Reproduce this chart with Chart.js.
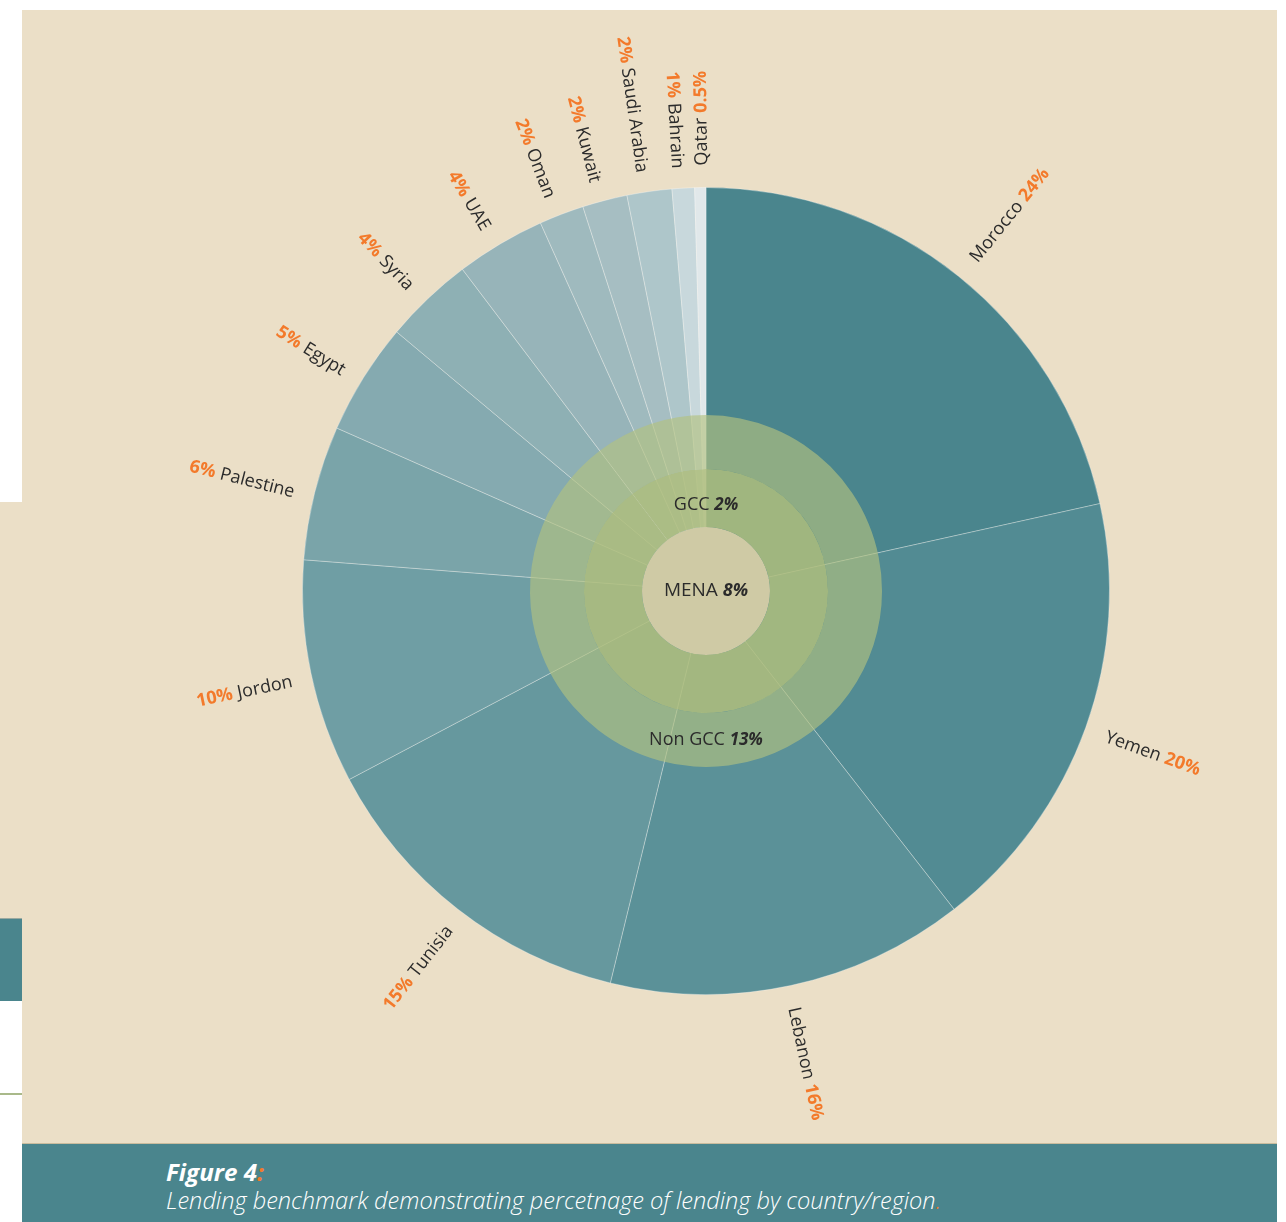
<!DOCTYPE html>
<html>
<head>
<meta charset="utf-8">
<script src="https://cdn.jsdelivr.net/npm/chart.js@4.4.1/dist/chart.umd.min.js"></script>
<style>
  html, body { margin: 0; padding: 0; background: #ffffff; }
  body { width: 1286px; height: 1222px; position: relative; overflow: hidden; font-family: "Open Sans", sans-serif; }
  .strip { position: absolute; left: 0; width: 22px; }
  #panel { position: absolute; left: 22px; top: 10px; width: 1255px; height: 1133px; background: #ebdfc7; }
  #band { position: absolute; left: 22px; top: 1143px; width: 1255px; height: 79px; background: #4a858d; border-top: 1px solid #c9bc9e; box-sizing: border-box; }
  #band .t1 { position: absolute; left: 144px; top: 12px; color: #fff; font-weight: 700; font-style: italic; font-size: 23px; white-space: nowrap; transform-origin: left top; }
  #band .t2 { position: absolute; left: 144px; top: 39px; color: #fff; font-style: italic; font-weight: 300; font-size: 24px; white-space: nowrap; transform-origin: left top; }
  #band .o { color: #f37a2b; }
  canvas { position: absolute; left: 0; top: 0; }
</style>
</head>
<body>
<div class="strip" style="top:502px;height:416px;background:#ebdfc7;"></div>
<div class="strip" style="top:918px;height:83px;background:#4a858d;border-top:1px solid #9aa9a0;box-sizing:border-box;"></div>
<div class="strip" style="top:1093px;height:2px;background:#a9b98a;"></div>
<div id="panel"></div>
<div id="band">
  <div class="t1" id="fig">Figure 4<span class="o">:</span></div>
  <div class="t2" id="cap">Lending benchmark demonstrating percetnage of lending by country/region<span class="o">.</span></div>
</div>
<canvas id="pieChart" width="1286" height="1222"></canvas>
<canvas id="ringChart" width="1286" height="1222"></canvas>
<script>
// lending share by country (%)
const countries = ["Morocco", "Yemen", "Lebanon", "Tunisia", "Jordon", "Palestine", "Egypt", "Syria", "UAE", "Oman", "Kuwait", "Saudi Arabia", "Bahrain", "Qatar"];
const shares = [24, 20, 16, 15, 10, 6, 5, 4, 4, 2, 2, 2, 1, 0.5];
const gccCountries = ["UAE", "Oman", "Kuwait", "Saudi Arabia", "Bahrain", "Qatar"];
const regions = ["MENA", "GCC", "Non GCC"];
const regionShares = [8, 2, 13];

const sliceColors = ["#4a858d", "#528b93", "#5b9198", "#66989e", "#6f9ea4", "#7aa4a9", "#85aab0",
  "#8eb0b4", "#97b4b9", "#9fbabe", "#a6bec2", "#aec6ca", "#c8d8dc", "#e1e8ea"];

const orange = "#f37a2b";
const ink = "#2b2b2b";

// labels around the outer ring
const outerLabels = {
  id: "outerLabels",
  afterDatasetsDraw(chart) {
    const ctx = chart.ctx;
    const meta = chart.getDatasetMeta(0);
    ctx.save();
    ctx.textBaseline = "middle";
    meta.data.forEach((arc, i) => {
      const a = (arc.startAngle + arc.endAngle) / 2;
      let deg = (a * 180 / Math.PI + 90) % 360;
      if (deg < 0) deg += 360;
      const inward = deg > 180 && deg < 359;
      const r = arc.outerRadius + (inward ? 20 : 22);
      const name = countries[i];
      const pct = shares[i] + "%";
      ctx.save();
      ctx.translate(arc.x + r * Math.cos(a), arc.y + r * Math.sin(a));
      ctx.rotate(inward ? a + Math.PI : a);
      ctx.translate(0, inward ? 5 : 2);
      const fName = '18px "Open Sans"';
      const fPct = 'bold 18px "Open Sans"';
      ctx.font = fName;
      const wName = ctx.measureText(name).width;
      ctx.font = fPct;
      const wPct = ctx.measureText(pct).width;
      const gap = 5;
      ctx.textAlign = "left";
      if (!inward) {
        ctx.font = fName; ctx.fillStyle = ink; ctx.fillText(name, 0, 0);
        ctx.font = fPct; ctx.fillStyle = orange; ctx.fillText(pct, wName + gap, 0);
      } else {
        const total = wPct + gap + wName;
        ctx.font = fPct; ctx.fillStyle = orange; ctx.fillText(pct, -total, 0);
        ctx.font = fName; ctx.fillStyle = ink; ctx.fillText(name, -wName, 0);
      }
      ctx.restore();
    });
    ctx.restore();
  }
};

const pieConfig = {
  type: "pie",
  data: {
    labels: countries,
    datasets: [{
      data: shares,
      backgroundColor: sliceColors,
      borderColor: "rgba(255,255,255,0.3)",
      borderWidth: 1,
    }],
  },
  plugins: [outerLabels],
  options: {
    responsive: false,
    animation: false,
    events: [],
    layout: { padding: { left: 302, right: 176, top: 187, bottom: 227 } },
    plugins: { legend: { display: false }, tooltip: { enabled: false } },
  },
};

// grouped sums for the translucent region rings
const gccSum = shares.filter((v, i) => gccCountries.includes(countries[i])).reduce((s, v) => s + v, 0);
const nonGccSum = shares.filter((v, i) => !gccCountries.includes(countries[i])).reduce((s, v) => s + v, 0);

const ringLabels = {
  id: "ringLabels",
  afterDatasetsDraw(chart) {
    const ctx = chart.ctx;
    const mid = chart.getDatasetMeta(0).data[0];
    const inner = chart.getDatasetMeta(1).data[0];
    const cx = mid.x, cy = mid.y;
    const draw = (name, pct, x, y, size) => {
      const fName = size + 'px "Open Sans"';
      const fPct = 'italic bold ' + (size - 1) + 'px "Open Sans"';
      ctx.font = fName;
      const w1 = ctx.measureText(name + " ").width;
      ctx.font = fPct;
      const w2 = ctx.measureText(pct).width;
      const x0 = x - (w1 + w2) / 2;
      ctx.textBaseline = "middle";
      ctx.textAlign = "left";
      ctx.fillStyle = ink;
      ctx.font = fName;
      ctx.fillText(name + " ", x0, y);
      ctx.font = fPct;
      ctx.fillText(pct, x0 + w1, y);
    };
    ctx.save();
    draw(regions[0], regionShares[0] + "%", cx, cy, 19);
    draw(regions[1], regionShares[1] + "%", cx, cy - (inner.innerRadius + (inner.outerRadius - inner.innerRadius) * 0.38), 18);
    draw(regions[2], regionShares[2] + "%", cx, cy + (mid.innerRadius + mid.outerRadius) / 2, 18);
    ctx.restore();
  }
};

const ringConfig = {
  type: "doughnut",
  data: {
    labels: ["Non GCC", "GCC"],
    datasets: [
      { data: [nonGccSum, gccSum], backgroundColor: "rgba(178,194,128,0.65)", borderWidth: 0, weight: 54 },
      { data: [nonGccSum, gccSum], backgroundColor: "rgba(175,190,125,0.86)", borderWidth: 0, weight: 58 },
      { data: [1], backgroundColor: "#cfcaa5", borderWidth: 0, weight: 64 },
    ],
  },
  plugins: [ringLabels],
  options: {
    responsive: false,
    animation: false,
    events: [],
    cutout: 0,
    layout: { padding: { left: 530, right: 404, top: 415, bottom: 455 } },
    plugins: { legend: { display: false }, tooltip: { enabled: false } },
  },
};

const pieChart = new Chart(document.getElementById("pieChart"), pieConfig);
const ringChart = new Chart(document.getElementById("ringChart"), ringConfig);

// caption is set in a condensed face in the original
const squeeze = (el, w) => {
  const cw = el.getBoundingClientRect().width;
  el.style.transform = "scaleX(" + (w / cw) + ")";
};
squeeze(document.getElementById("fig"), 98);
squeeze(document.getElementById("cap"), 775);
</script>
</body>
</html>
